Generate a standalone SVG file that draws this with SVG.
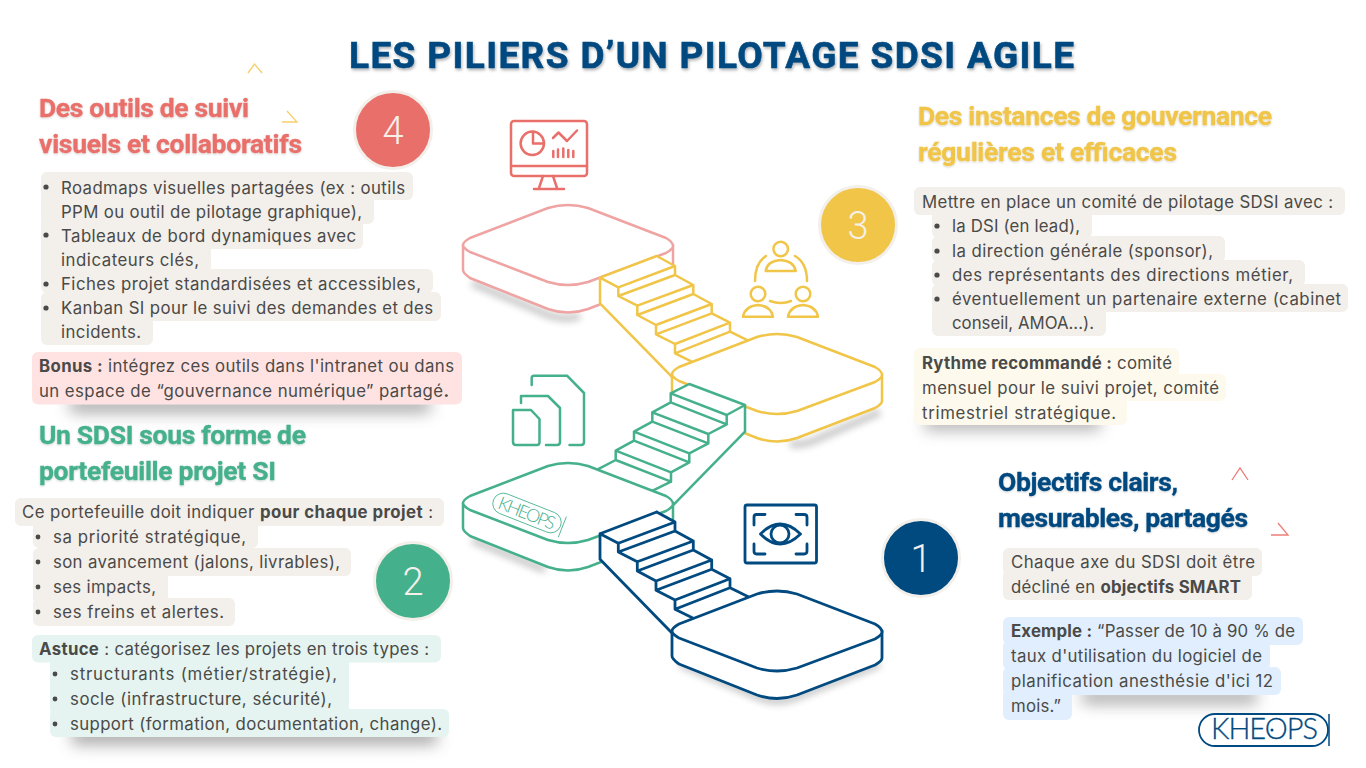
<svg xmlns="http://www.w3.org/2000/svg" width="1366" height="768" viewBox="0 0 1366 768">
<style>
text{font-family:"Inter","Liberation Sans",sans-serif}
.b{font-size:16.8px;fill:#4a4a48}
.b tspan{font-weight:700}
.h{font-family:"Roboto","Liberation Sans",sans-serif;font-size:26.500px;font-weight:700;stroke-width:.35;filter:url(#hs)}
.n{font-family:"Roboto","Liberation Sans",sans-serif;font-size:38px;font-weight:300;fill:#f5f0ea;text-anchor:middle}
.ln{fill:none;stroke:currentColor;stroke-width:2.500;stroke-linecap:round;stroke-linejoin:round}
.wf{fill:#fff;stroke:currentColor;stroke-width:2.500;stroke-linejoin:round}
.pk{color:#efa3a3}.ye{color:#f0c548}.gr{color:#45b08c}.na{color:#004a80;}
.na .ln,.na .wf{stroke-width:2.800}
.re{color:#e96f6a}
.bg1{fill:#f3efea}.bg2{fill:#ffe3e3}.bg3{fill:#e5f4f0}.bg4{fill:#fdf9ec}.bg5{fill:#e0eefd}
.dot{fill:#4a4a48}
.sh{fill:#555;opacity:.55;filter:url(#bl)}
.ps{fill:none;stroke:#444;stroke-width:7;opacity:.3;filter:url(#bl2)}
.ring{stroke:#f3efea;stroke-width:3}
</style>
<defs>
<filter id="bl" x="-20%" y="-150%" width="140%" height="400%"><feGaussianBlur stdDeviation="8"/></filter>
<filter id="bl2" x="-30%" y="-60%" width="160%" height="220%"><feGaussianBlur stdDeviation="3.500"/></filter>
<filter id="hs" x="-5%" y="-20%" width="110%" height="150%"><feDropShadow dx="0" dy="1" stdDeviation="1" flood-color="#000" flood-opacity=".18"/></filter>
<filter id="ts" x="-5%" y="-30%" width="110%" height="170%"><feDropShadow dx="1" dy="2" stdDeviation="1.500" flood-color="#000" flood-opacity=".3"/></filter>
<path id="pf-side" d="M-105,0V25Q-105,28-98,33L-20,64Q0,71 20,64L98,34Q105,30 105,27V0Z"/>
<path id="pf-top" d="M-98,-7L-20,-37Q0,-43 20,-37L98,-7Q105,-3 105,1Q105,4 98,8L20,37Q0,43-20,37L-98,7Q-105,3-105,0Q-105,-3-98,-7Z"/>
<polygon id="st-fill" points="600,277.700 656.700,256 675,266 675,275 693.300,285 693.300,294 711.700,304 711.700,313.300 730,322.700 730,331.700 748.300,340.700 693.300,362.300 671.700,376.700 600,303.300"/>
<path id="st-line" d="M656.700,256L600,277.700V303.300L671.700,376.700M600,277.700L618.300,287.300L675,266L656.700,256M618.300,287.300V296L675,275V266M618.300,296L637.300,305.700L693.300,285L675,275M637.300,305.700V315L693.300,294V285M637.300,315L656,325L711.700,304L693.300,294M656,325V334.300L711.700,313.300V304M656,334.300L675,344L730,322.700L711.700,313.300M675,344V353.300L730,331.700V322.700M675,353.300L693.300,362.300M730,331.700L748.300,340.700"/>
</defs>
<rect width="1366" height="768" fill="#fff"/>

<text id="title" x="349" y="67.500" font-size="37" textLength="725" style="font-family:Roboto,'Liberation Sans',sans-serif;font-weight:700;fill:#004a80;stroke:#004a80;stroke-width:.6;filter:url(#ts)">LES PILIERS D’UN PILOTAGE SDSI AGILE</text>

<g id="decor" fill="none" stroke-width="1.300">
<path d="M248,73L254.500,64L262,73M287,111L297,122H282" stroke="#f5cf6a"/>
<path d="M1232,480L1240,468L1248,480M1278,523L1288,535H1271" stroke="#ee7d78"/>
</g>

<g id="scene">
<path class="ps" d="M472,283L548,315Q566,321 580,316"/>
<path class="ps" d="M790,444Q805,446 820,438L880,412"/>
<path class="ps" d="M472,540L545,570"/>
<path class="ps" d="M680,664L760,698Q777,704 795,698L880,664"/>

<g id="platform-4" class="pk" transform="translate(568,245)"><use href="#pf-side" class="wf"/><use href="#pf-top" class="wf"/></g>
<g id="stairs-3" class="ye"><use href="#st-fill" fill="#fff"/><use href="#st-line" class="ln"/></g>
<g id="platform-3" class="ye" transform="translate(777,374)"><use href="#pf-side" class="wf"/><use href="#pf-top" class="wf"/></g>
<g id="stairs-2" class="gr">
<polygon fill="#fff" points="745,405 689.300,384 670.700,393.300 670.700,402.300 652.300,412.300 652.300,421.700 634,431.700 634,440.700 615.700,450.700 615.700,460 597.700,469.300 652.700,490.700 672.700,505.700 745,431.700"/>
<path class="ln" d="M745,405L689.300,384L670.700,393.300L726.700,415L745,405V431.700L672.700,505.700M670.700,393.300V402.300L726.700,424.300V415M670.700,402.300L652.300,412.300L708.300,434L726.700,424.300M652.300,412.300V421.700L708.300,443.300V434M652.300,421.700L634,431.700L689.300,453.300L708.300,443.300M634,431.700V440.700L689.300,462.300V453.300M634,440.700L615.700,450.700L671,472.300L689.300,462.300M615.700,450.700V460L671,481.700V472.300M615.700,460L597.700,469.300M671,481.700L652.700,490.700"/>
</g>
<g id="platform-2" class="gr" transform="translate(568,503)"><use href="#pf-side" class="wf"/><use href="#pf-top" class="wf"/></g>
<g id="logo-platform" class="gr" transform="translate(527,513) rotate(21.500)">
<rect x="-36" y="-10.500" width="72" height="21" rx="10.500" fill="none" stroke="currentColor" stroke-width=".8"/>
<text x="0" y="6.500" font-size="18" text-anchor="middle" textLength="60" style="font-family:Lato,'Liberation Sans',sans-serif;font-weight:300;fill:#45b08c">KHEOPS</text>
<path d="M38,-11V11" stroke="currentColor" stroke-width=".8"/>
</g>
<g id="stairs-1" class="na" transform="translate(0,256)"><use href="#st-fill" fill="#fff"/><use href="#st-line" class="ln"/></g>
<g id="platform-1" class="na" transform="translate(777,631)"><use href="#pf-side" class="wf"/><use href="#pf-top" class="wf"/></g>
</g>

<g id="icon-monitor" class="re"><g class="ln">
<rect x="511" y="121" width="76" height="55" rx="3"/>
<path d="M511,166H587M543,176L539,188M553,176L557,188M534,189H564"/>
<circle cx="532.300" cy="143.300" r="11.700"/>
<path d="M533,132V143.500H544"/>
<path d="M553,138L558.500,132.500L567,141L577,130.500"/>
<path d="M553.300,157V151M558,157V149.500M563.300,157V148.500M568.300,157V150M573.300,157V151"/>
</g></g>

<g id="icon-people" class="ye"><g class="ln">
<circle cx="780.700" cy="249" r="7.300"/>
<path d="M765.700,271Q767,261 780.700,260Q794,261 795.700,271Z"/>
<circle cx="758" cy="294" r="7.300"/>
<path d="M743,316.700Q745,306 758,305Q771,306 773,316.700Z"/>
<circle cx="803" cy="294" r="7.300"/>
<path d="M788,316.700Q790,306 803,305Q816,306 818,316.700Z"/>
<path d="M766,256Q755,263 755,281M795,256Q807,263 807,281M770,301Q781,305 791,301"/>
</g></g>

<g id="icon-docs" class="gr"><g class="ln">
<path d="M513,410H531L539.500,419V442Q539.500,445 537,445H516Q513,445 513,442Z"/>
<path d="M521,403V396H548L560,408V442Q560,445 557,445H546"/>
<path d="M531.700,385V378Q531.700,375.700 534,375.700H567L584,393V442Q584,445 581,445H569.500"/>
</g></g>

<g id="icon-eye" class="na"><g class="ln">
<rect x="745" y="505" width="71.500" height="58" rx="2"/>
<path d="M754,525V517Q754,514.500 756.500,514.500H765M796,514.500H804Q807,514.500 807,517V525M754,544V551Q754,554 756.500,554H765M796,554H804Q807,554 807,551V544"/>
<path d="M760.500,534Q780,514 800.500,534Q780,554 760.500,534Z"/>
<circle cx="780" cy="534" r="9"/>
</g></g>

<g id="node-4">
<rect class="sh" x="70" y="398" width="360" height="14"/>
<text class="h" fill="#e96f6a" stroke="#e96f6a" x="39" y="117" textLength="210">Des outils de suivi</text>
<text class="h" fill="#e96f6a" stroke="#e96f6a" x="39" y="152.500" textLength="263">visuels et collaboratifs</text>
<circle class="ring" cx="393" cy="130" r="38.500" fill="#e96f6a"/>
<text class="n" x="393" y="144">4</text>
<g class="bg1">
<rect x="41" y="172" width="372" height="28" rx="6"/><rect x="41" y="192" width="333" height="32" rx="6"/><rect x="41" y="216" width="322" height="33" rx="6"/><rect x="41" y="240" width="170" height="35" rx="0"/><rect x="41" y="269" width="392" height="24" rx="6"/><rect x="41" y="292" width="400" height="29" rx="6"/><rect x="41" y="310" width="112" height="35" rx="6"/>
</g>
<g class="dot"><circle cx="46" cy="187" r="2.600"/><circle cx="46" cy="235" r="2.600"/><circle cx="46" cy="284" r="2.600"/><circle cx="46" cy="308" r="2.600"/></g>
<text class="b" x="61" y="193.500" textLength="344">Roadmaps visuelles partagées (ex : outils</text>
<text class="b" x="61" y="217.500" textLength="301">PPM ou outil de pilotage graphique),</text>
<text class="b" x="61" y="241.500" textLength="295">Tableaux de bord dynamiques avec</text>
<text class="b" x="61" y="265.500" textLength="138">indicateurs clés,</text>
<text class="b" x="61" y="289.500" textLength="360">Fiches projet standardisées et accessibles,</text>
<text class="b" x="61" y="313.500" textLength="372">Kanban SI pour le suivi des demandes et des</text>
<text class="b" x="61" y="337.500" textLength="80">incidents.</text>
<rect class="bg2" x="32" y="352" width="430" height="52.500" rx="6"/>
<text class="b" x="39" y="371.500" textLength="415"><tspan>Bonus :</tspan> intégrez ces outils dans l'intranet ou dans</text>
<text class="b" x="39" y="396.500" textLength="410">un espace de “gouvernance numérique” partagé<tspan>.</tspan></text>
</g>

<g id="node-2">
<rect class="sh" x="72" y="728" width="365" height="16"/>
<text class="h" fill="#45b08c" stroke="#45b08c" x="39" y="444" textLength="267">Un SDSI sous forme de</text>
<text class="h" fill="#45b08c" stroke="#45b08c" x="39" y="480" textLength="237">portefeuille projet SI</text>
<circle class="ring" cx="413" cy="581" r="38.500" fill="#45b08c"/>
<text class="n" x="413" y="595">2</text>
<g class="bg1">
<rect x="15" y="498" width="429" height="28" rx="6"/><rect x="33" y="518" width="225" height="30" rx="6"/><rect x="33" y="548" width="318" height="28" rx="6"/><rect x="33" y="570" width="135" height="30" rx="0"/><rect x="33" y="598" width="202" height="28" rx="6"/>
</g>
<g class="dot"><circle cx="38" cy="537" r="2.400"/><circle cx="38" cy="562" r="2.400"/><circle cx="38" cy="587" r="2.400"/><circle cx="38" cy="612" r="2.400"/></g>
<text class="b" x="22" y="517.500" textLength="411">Ce portefeuille doit indiquer <tspan>pour chaque projet</tspan> :</text>
<text class="b" x="53" y="542.500" textLength="193">sa priorité stratégique,</text>
<text class="b" x="53" y="567.500" textLength="287">son avancement (jalons, livrables),</text>
<text class="b" x="53" y="592.500" textLength="103">ses impacts,</text>
<text class="b" x="53" y="617.500" textLength="171">ses freins et alertes.</text>
<g class="bg3">
<rect x="32" y="635" width="409" height="27.500" rx="6"/><rect x="50" y="655" width="299" height="60" rx="6"/><rect x="50" y="709" width="399" height="28" rx="6"/>
</g>
<g class="dot"><circle cx="55" cy="674" r="2.400"/><circle cx="55" cy="699" r="2.400"/><circle cx="55" cy="724" r="2.400"/></g>
<text class="b" x="39" y="654.500" textLength="390"><tspan>Astuce</tspan> : catégorisez les projets en trois types :</text>
<text class="b" x="70" y="679.500" textLength="267">structurants (métier/stratégie),</text>
<text class="b" x="70" y="704.500" textLength="262">socle (infrastructure, sécurité),</text>
<text class="b" x="70" y="729.500" textLength="372">support (formation, documentation, change).</text>
</g>

<g id="node-3">
<rect class="sh" x="925" y="416" width="175" height="13"/>
<text class="h" fill="#f0c548" stroke="#f0c548" x="918" y="125" textLength="354">Des instances de gouvernance</text>
<text class="h" fill="#f0c548" stroke="#f0c548" x="918" y="161" textLength="259">régulières et efficaces</text>
<circle class="ring" cx="858" cy="225" r="38.500" fill="#f0c548"/>
<text class="n" x="858" y="239">3</text>
<g class="bg1">
<rect x="914" y="187" width="431" height="28" rx="6"/><rect x="932" y="208" width="160" height="30" rx="6"/><rect x="932" y="236" width="293" height="26" rx="6"/><rect x="932" y="260" width="373" height="26" rx="6"/><rect x="932" y="284" width="416" height="28" rx="6"/><rect x="932" y="305" width="174" height="31" rx="6"/>
</g>
<g class="dot"><circle cx="937" cy="226" r="2.600"/><circle cx="937" cy="251" r="2.600"/><circle cx="937" cy="275" r="2.600"/><circle cx="937" cy="299" r="2.600"/></g>
<text class="b" x="922" y="207.500" textLength="411">Mettre en place un comité de pilotage SDSI avec :</text>
<text class="b" x="952" y="231.500" textLength="128">la DSI (en lead),</text>
<text class="b" x="952" y="256.500" textLength="261">la direction générale (sponsor),</text>
<text class="b" x="952" y="280.500" textLength="341">des représentants des directions métier,</text>
<text class="b" x="952" y="304.500" textLength="389">éventuellement un partenaire externe (cabinet</text>
<text class="b" x="952" y="328.500" textLength="142">conseil, AMOA...).</text>
<g class="bg4">
<rect x="914" y="348" width="265" height="32" rx="6"/><rect x="914" y="374" width="312" height="27" rx="6"/><rect x="914" y="395" width="213" height="30" rx="6"/>
</g>
<text class="b" x="922" y="368.500" textLength="250"><tspan>Rythme recommandé :</tspan> comité</text>
<text class="b" x="922" y="393.500" textLength="297">mensuel pour le suivi projet, comité</text>
<text class="b" x="922" y="418.500" textLength="194">trimestriel stratégique.</text>
</g>

<g id="node-1">
<rect class="sh" x="1082" y="690" width="175" height="13"/>
<text class="h" fill="#004a80" stroke="#004a80" x="998" y="491" textLength="180">Objectifs clairs,</text>
<text class="h" fill="#004a80" stroke="#004a80" x="998" y="527" textLength="250">mesurables, partagés</text>
<circle class="ring" cx="921" cy="558" r="38.500" fill="#004a80"/>
<text class="n" x="921" y="572">1</text>
<g class="bg1"><rect x="1003" y="548" width="259" height="28" rx="6"/><rect x="1003" y="570" width="249" height="30" rx="6"/></g>
<text class="b" x="1011" y="567.500" textLength="244">Chaque axe du SDSI doit être</text>
<text class="b" x="1011" y="592.500" textLength="230">décliné en <tspan>objectifs SMART</tspan></text>
<g class="bg5">
<rect x="1003" y="617" width="300" height="28" rx="6"/><rect x="1003" y="640" width="267" height="30" rx="6"/><rect x="1003" y="667" width="278" height="28" rx="6"/><rect x="1003" y="688" width="69" height="32" rx="6"/>
</g>
<text class="b" x="1011" y="636.500" textLength="284"><tspan>Exemple :</tspan> “Passer de 10 à 90 % de</text>
<text class="b" x="1011" y="661.500" textLength="251">taux d'utilisation du logiciel de</text>
<text class="b" x="1011" y="686.500" textLength="262">planification anesthésie d'ici 12</text>
<text class="b" x="1011" y="711.500" textLength="50">mois.”</text>
</g>

<g id="logo" color="#004a80">
<rect x="1199" y="714" width="129" height="32" rx="16" fill="#fff" stroke="currentColor" stroke-width="1.800"/>
<path d="M1329,714V746" stroke="currentColor" stroke-width="1.500"/>
<text x="1211" y="739" font-size="29" textLength="107" style="font-family:Lato,'Liberation Sans',sans-serif;font-weight:300;fill:#004a80;stroke:#004a80;stroke-width:.3">KHEOPS</text>
<circle cx="1272" cy="730" r="1.500" fill="#004a80"/>
</g>
</svg>
